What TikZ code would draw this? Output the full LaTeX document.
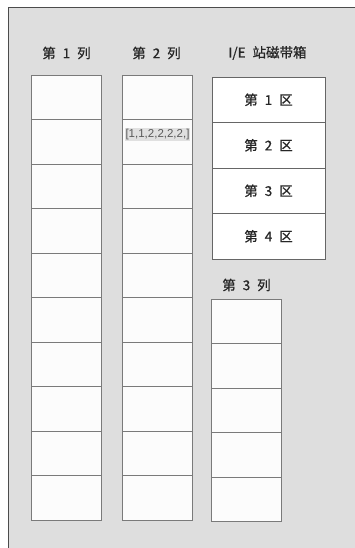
\documentclass[tikz,border=0pt]{standalone}
\usepackage{fontspec}
\setmainfont{Liberation Sans}
\newfontfamily\cjk[WordSpace=2.3,FakeBold=0.7]{Noto Sans CJK SC}
\usepackage{tikz}
\usetikzlibrary{positioning}
\definecolor{panel}{HTML}{DEDEDE}
\definecolor{edge}{HTML}{7A7A7A}
\definecolor{cellfill}{HTML}{FCFCFC}
\definecolor{inktext}{HTML}{262626}

\begin{document}
\begin{tikzpicture}[
  x=1pt,y=-1pt,
  font=\cjk\fontsize{13.5}{15}\selectfont,
  cell/.style={draw=edge,fill=cellfill,line width=0.9pt,minimum width=70pt,minimum height=44.5pt,inner sep=0pt,outer sep=0pt},
  zone/.style={draw=black!60,fill=white,line width=0.9pt,minimum width=113pt,minimum height=45.5pt,inner sep=0pt,outer sep=0pt,text=inktext},
  head/.style={text=inktext},
  tag/.style={fill=black!12,text=black!65,inner sep=0.8pt,font=\fontsize{11.5}{13}\selectfont}
]
\useasboundingbox (0,0) rectangle (355,548);
\draw[fill=panel,draw=black!70,line width=0.8pt] (8,7) rectangle (370,560);

% column heads
\node[head] (h1) at (66.5,53) {第 1 列};
\node[head] (h2) at (156.5,53) {第 2 列};
\node[head] (h3) at (267.5,53) {I/E 站磁带箱};

% column 1 and column 2
\node[cell] (a1) at (66,97.25) {};
\node[cell] (b1) at (157.5,97.25) {};
\foreach \i [count=\j from 1] in {2,...,10} {
  \node[cell,below=0pt of a\j] (a\i) {};
  \node[cell,below=0pt of b\j] (b\i) {};
}
\node[tag,below=8.5pt of b2.north] (tag) {[1,1,2,2,2,2,]};

% I/E station zones
\node[zone] (z1) at (268.5,99.75) {第 1 区};
\node[zone,below=0pt of z1] (z2) {第 2 区};
\node[zone,below=0pt of z2] (z3) {第 3 区};
\node[zone,below=0pt of z3] (z4) {第 4 区};

% column 3
\node[head] (h4) at (246.5,285) {第 3 列};
\node[cell] (c1) at (246.5,321.25) {};
\foreach \i [count=\j from 1] in {2,...,5}
  \node[cell,below=0pt of c\j] (c\i) {};
\end{tikzpicture}
\end{document}
